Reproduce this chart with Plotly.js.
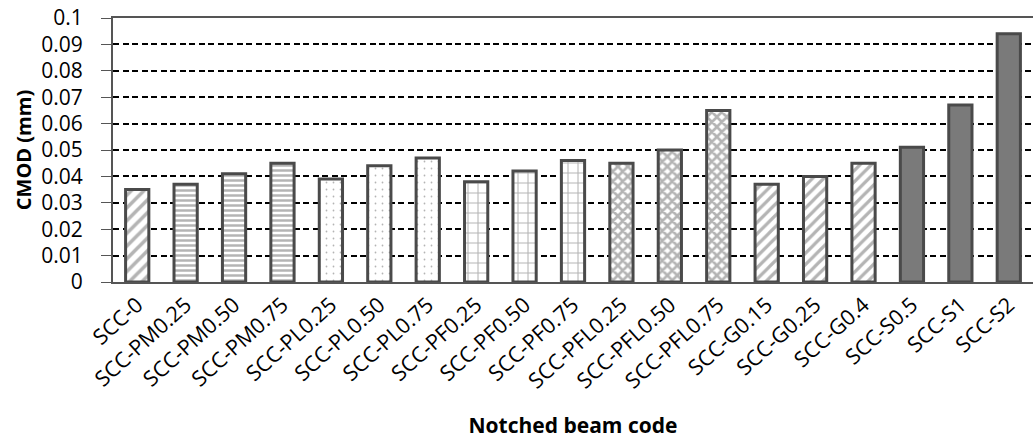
<!DOCTYPE html>
<html>
<head>
<meta charset="utf-8">
<script src="https://cdn.plot.ly/plotly-3.0.1.min.js"></script>
<style>
  html, body { margin: 0; padding: 0; background: #fff; }
  #chart { width: 1035px; height: 439px; }
</style>
</head>
<body>
<div id="chart"></div>
<script>
// Beam codes and measured crack mouth opening displacement (mm)
const beamCodes = [
  "SCC-0", "SCC-PM0.25", "SCC-PM0.50", "SCC-PM0.75",
  "SCC-PL0.25", "SCC-PL0.50", "SCC-PL0.75",
  "SCC-PF0.25", "SCC-PF0.50", "SCC-PF0.75",
  "SCC-PFL0.25", "SCC-PFL0.50", "SCC-PFL0.75",
  "SCC-G0.15", "SCC-G0.25", "SCC-G0.4",
  "SCC-S0.5", "SCC-S1", "SCC-S2"
];
const cmod = [
  0.035, 0.037, 0.041, 0.045,
  0.039, 0.044, 0.047,
  0.038, 0.042, 0.046,
  0.045, 0.050, 0.065,
  0.037, 0.040, 0.045,
  0.051, 0.067, 0.094
];
// Fibre family of each beam, used to pick its fill
const family = [
  "plain", "PM", "PM", "PM",
  "PL", "PL", "PL",
  "PF", "PF", "PF",
  "PFL", "PFL", "PFL",
  "G", "G", "G",
  "S", "S", "S"
];

const fillStyle = {
  plain: { shape: "/", size: 9, solidity: 0.4 },
  PM:    { shape: "-", size: 5, solidity: 0.5 },
  PL:    { shape: ".", size: 7, solidity: 0.05 },
  PF:    { shape: "+", size: 10, solidity: 0.2 },
  PFL:   { shape: "x", size: 7, solidity: 0.62 },
  G:     { shape: "/", size: 8, solidity: 0.4 },
  S:     { shape: "",  size: 8, solidity: 0.3 }
};

const trace = {
  type: "bar",
  x: beamCodes,
  y: cmod,
  marker: {
    color: "#7a7a7a",
    line: { color: "#4a4a4a", width: 3 },
    pattern: {
      shape: family.map(f => fillStyle[f].shape),
      size: family.map(f => fillStyle[f].size),
      solidity: family.map(f => fillStyle[f].solidity),
      fgcolor: "#6a6a6a",
      bgcolor: "#ffffff",
      fillmode: "overlay"
    }
  },
  hoverinfo: "x+y"
};

const layout = {
  width: 1035,
  height: 439,
  margin: { l: 113, r: 2, t: 18, b: 157 },
  paper_bgcolor: "#ffffff",
  plot_bgcolor: "#ffffff",
  bargap: 0.52,
  showlegend: false,
  font: { family: "Open Sans, Noto Sans, sans-serif", color: "#000" },
  xaxis: {
    type: "category",
    tickangle: -42,
    tickfont: { size: 21.5, color: "#000" },
    showline: true,
    linecolor: "#555555",
    linewidth: 2,
    mirror: true,
    ticks: "",
    showgrid: false,
    automargin: false,
    title: {
      text: "Notched beam code",
      font: { size: 21, color: "#000", family: "Open Sans, sans-serif", weight: "bold" },
      standoff: 27
    }
  },
  yaxis: {
    range: [0, 0.1],
    dtick: 0.01,
    tick0: 0,
    tickformat: "~g",
    tickfont: { size: 21, color: "#000" },
    showline: true,
    linecolor: "#555555",
    linewidth: 2,
    ticks: "outside",
    ticklen: 10,
    tickcolor: "#555555",
    ticklabelstandoff: 14,
    showgrid: true,
    gridcolor: "#000000",
    gridwidth: 2,
    griddash: "6px,3.5px",
    zeroline: false,
    automargin: false,
    title: {
      text: "CMOD (mm)",
      font: { size: 20, color: "#000", family: "Open Sans, sans-serif", weight: "bold" },
      standoff: 4
    }
  }
};

Plotly.newPlot("chart", [trace], layout, { displayModeBar: false, staticPlot: true });
</script>
</body>
</html>
